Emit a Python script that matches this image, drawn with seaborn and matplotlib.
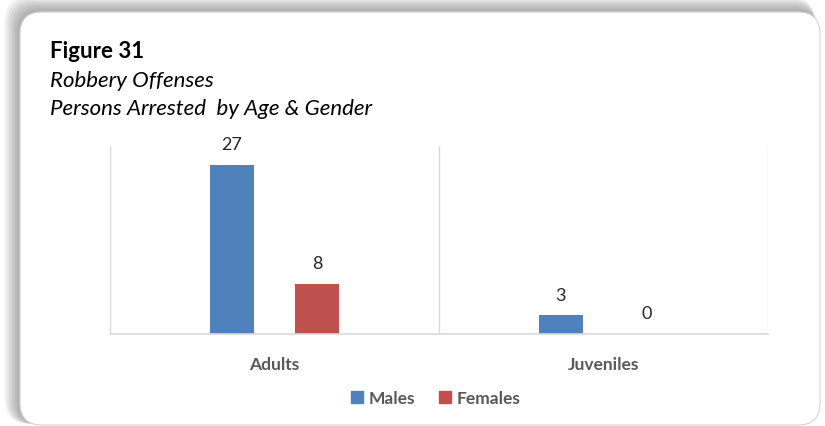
import matplotlib
matplotlib.use("Agg")
import matplotlib.pyplot as plt
from matplotlib.patches import FancyBboxPatch
from matplotlib.lines import Line2D
import seaborn as sns
import pandas as pd

# -----------------------------
# DATA
# -----------------------------
age_groups = ["Adults", "Juveniles"]
genders = ["Males", "Females"]
males = [27, 3]
females = [8, 0]
colors = ["#4F81BD", "#C0504D"]

df = pd.DataFrame({
    "age": age_groups * 2,
    "gender": [genders[0]] * 2 + [genders[1]] * 2,
    "count": males + females,
})

sns.set_style("white")
plt.rcParams["font.family"] = ["Lato", "DejaVu Sans"]

W, H = 825, 427
fig = plt.figure(figsize=(W / 100, H / 100), dpi=100)

# -----------------------------
# ROUNDED FRAME WITH SHADOW (pixel coords on a background axes)
# -----------------------------
bg = fig.add_axes([0, 0, 1, 1], zorder=-10)
bg.set_xlim(0, W)
bg.set_ylim(H, 0)
bg.axis("off")

left, top, right, bottom = 20, 13, 820, 426
for off in range(15, 0, -2):
    sh = FancyBboxPatch((left - off, top - off), (right - left) + off * 0.6, (bottom - top) + off * 0.9,
                        boxstyle="round,pad=0,rounding_size=24",
                        facecolor="#505050", edgecolor="none", alpha=0.075)
    bg.add_patch(sh)
bg.add_patch(FancyBboxPatch((left, top), right - left, bottom - top,
                            boxstyle="round,pad=0,rounding_size=22",
                            facecolor="white", edgecolor="#d4d4d4", linewidth=0.8))

# -----------------------------
# TITLE
# -----------------------------
fig.text(50 / W, 1 - 52 / H, "Figure 31", fontsize=16, fontweight="bold",
         color="black", va="center", ha="left")
fig.text(50 / W, 1 - 81 / H, "Robbery Offenses", fontsize=16, style="italic",
         color="black", va="center", ha="left")
fig.text(50 / W, 1 - 109 / H, "Persons Arrested  by Age & Gender", fontsize=16,
         style="italic", color="black", va="center", ha="left")

# -----------------------------
# BARS
# -----------------------------
ax = fig.add_axes([110 / W, 1 - 335 / H, (768 - 110) / W, (335 - 147) / H])
ax.patch.set_alpha(0)
sns.barplot(data=df, x="age", y="count", hue="gender", hue_order=genders,
            palette=colors, width=0.52, gap=0.49, ax=ax, legend=False,
            saturation=1, edgecolor="none")

ax.set_xlim(-0.5, 1.5)
ax.set_ylim(0, 30)
ax.set_yticks([])
ax.set_xlabel("")
ax.set_ylabel("")
ax.tick_params(axis="x", length=0, pad=16, labelsize=12.5, colors="#595959")
for lbl in ax.get_xticklabels():
    lbl.set_fontweight("bold")

for x in [-0.5, 0.5, 1.5]:
    ax.axvline(x, color="#D9D9D9", linewidth=1.0, zorder=0)
for s in ["top", "right", "left"]:
    ax.spines[s].set_visible(False)
ax.spines["bottom"].set_color("#D9D9D9")
ax.spines["bottom"].set_linewidth(1.2)

for cont in ax.containers:
    ax.bar_label(cont, padding=9, fontsize=13, color="#262626")

# -----------------------------
# LEGEND
# -----------------------------
handles = [Line2D([0], [0], marker="s", linestyle="none", markersize=8.5,
                  markerfacecolor=c, markeredgecolor=c) for c in colors]
leg = fig.legend(handles, genders, loc="center", bbox_to_anchor=(430 / W, 1 - 399 / H),
                 ncol=2, frameon=False, handletextpad=-0.3, columnspacing=0.7,
                 prop={"size": 12.5, "weight": "bold"})
for t in leg.get_texts():
    t.set_color("#595959")

fig.savefig("out.png", dpi=100)
